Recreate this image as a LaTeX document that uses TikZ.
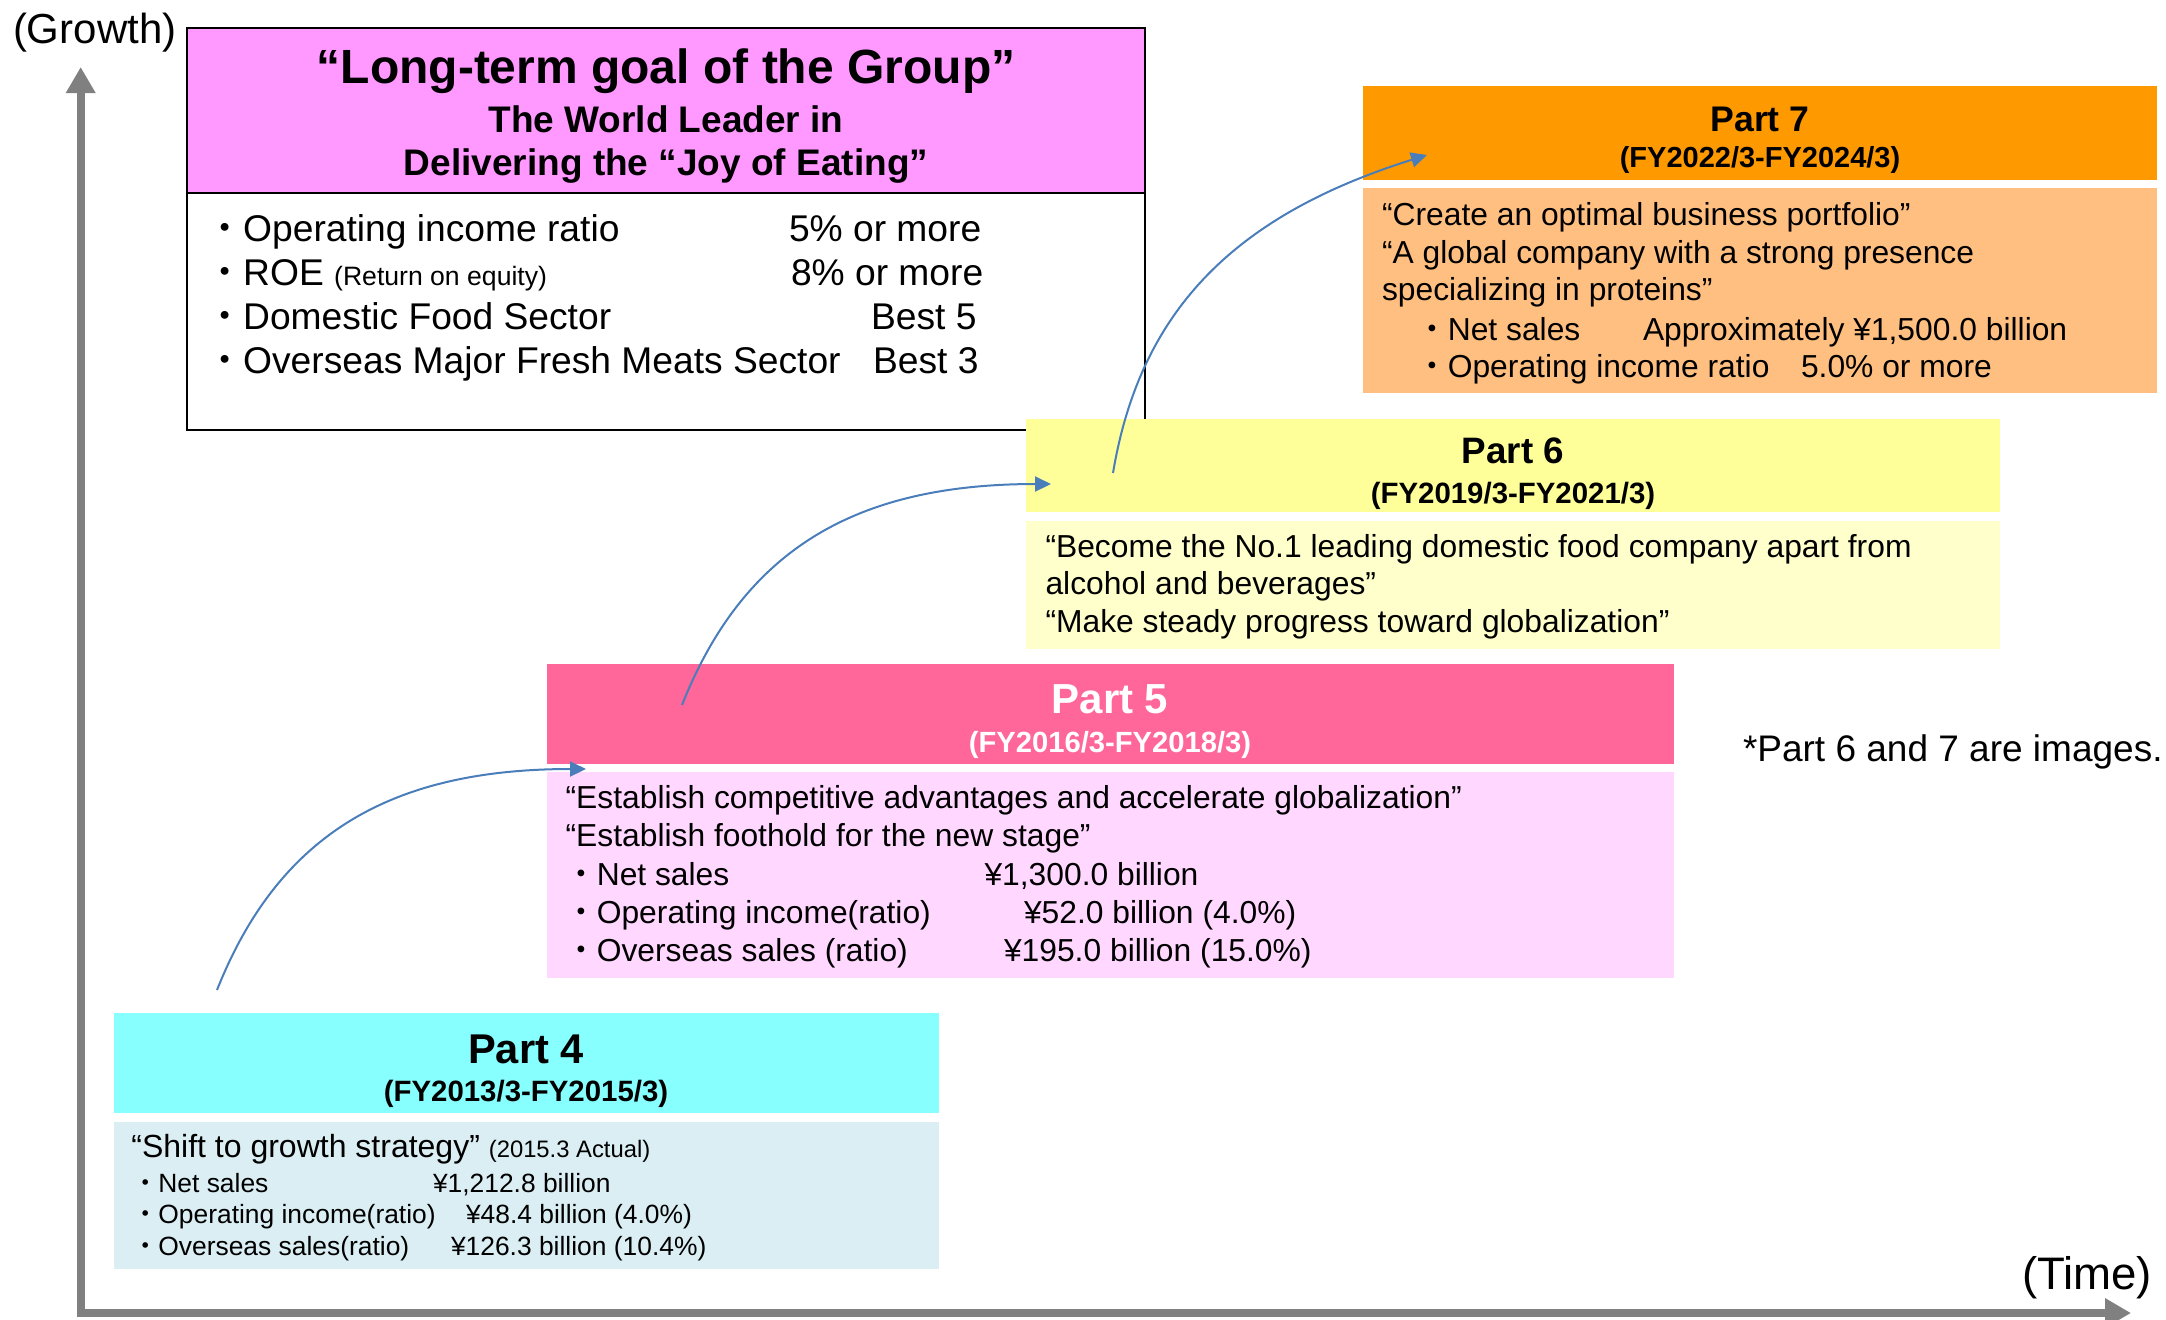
\documentclass[tikz,border=0pt]{standalone}
\usepackage{fontspec}
\setmainfont{Liberation Sans}
\newfontfamily\cjk{Noto Sans CJK JP}
\usetikzlibrary{fit,arrows.meta}
\definecolor{goalpink}{HTML}{FF99FF}
\definecolor{cSevH}{HTML}{FF9900}
\definecolor{cSevB}{HTML}{FFBF80}
\definecolor{cSixH}{HTML}{FFFF99}
\definecolor{cSixB}{HTML}{FFFFCC}
\definecolor{cFivH}{HTML}{FF6699}
\definecolor{cFivB}{HTML}{FFD7FF}
\definecolor{cFouH}{HTML}{88FFFF}
\definecolor{cFouB}{HTML}{DAEEF3}
\definecolor{arrowblue}{HTML}{4A7EBB}
\definecolor{axisgray}{HTML}{808080}
\newcommand\fsz[1]{\fontsize{#1}{#1}\selectfont}
\newcommand\bul{{\cjk ・}}
\tikzset{
  txt/.style={inner sep=0pt, outer sep=0pt, anchor=base west},
  ctr/.style={inner sep=0pt, outer sep=0pt, anchor=base},
  panel/.style={inner sep=0pt, outer sep=0pt, draw=none},
  conn/.style={draw=arrowblue, line width=1pt, -{Triangle[length=8pt,width=7.5pt]}},
  axisline/.style={draw=axisgray, line width=4pt, -{Triangle[length=13pt,width=14pt]}}
}
\begin{document}
\begin{tikzpicture}[x=0.5pt,y=-0.5pt]
\useasboundingbox (0,0) rectangle (2166,1319);

% axes
\coordinate (yb) at (80.7,1317);
\coordinate (yt) at (80.7,67);
\coordinate (xl) at (76.7,1313);
\coordinate (xr) at (2131,1313);
\draw[axisline] (yb) -- (yt);
\draw[axisline] (xl) -- (xr);
\node[txt, font=\fsz{21pt}] (growth) at (13,43) {(Growth)};
\node[txt, font=\fsz{22.8pt}] (time) at (2022,1289) {(Time)};

% panels
\node[panel, fill=goalpink, draw=black, line width=1.3pt, fit={(187,28) (1145,193)}] (goalh) {};
\node[panel, fill=white, draw=black, line width=1.3pt, fit={(187,193) (1145,430)}] (goalb) {};
\node[panel, fill=cSevH, fit={(1363,86) (2157,180)}] (p7h) {};
\node[panel, fill=cSevB, fit={(1363,188) (2157,393)}] (p7b) {};
\node[panel, fill=cSixH, fit={(1026,419) (2000,512)}] (p6h) {};
\node[panel, fill=cSixB, fit={(1026,521) (2000,649)}] (p6b) {};
\node[panel, fill=cFivH, fit={(547,664) (1674,764)}] (p5h) {};
\node[panel, fill=cFivB, fit={(547,772) (1674,978)}] (p5b) {};
\node[panel, fill=cFouH, fit={(113.5,1013) (939,1113)}] (p4h) {};
\node[panel, fill=cFouB, fit={(113.5,1122) (939,1269)}] (p4b) {};

% connectors
\coordinate (a1s) at (217,990);
\coordinate (a1e) at (586,769);
\coordinate (a2s) at (682,705);
\coordinate (a2e) at (1051,484);
\coordinate (a3s) at (1113,473);
\coordinate (a3e) at (1427,155);
\draw[conn] (a1s) .. controls (278.6,835) and (390,769) .. (a1e);
\draw[conn] (a2s) .. controls (743.6,550) and (855,484) .. (a2e);
\draw[conn] (a3s) .. controls (1140,311) and (1234,215.5) .. (a3e);

% goal texts
\node[ctr, font=\bfseries\fsz{24pt}] (g1) at (666,83) {“Long-term goal of the Group”};
\node[ctr, font=\bfseries\fsz{18.5pt}] (g2) at (666,132) {The World Leader in};
\node[ctr, font=\bfseries\fsz{18.5pt}] (g3) at (666,175) {Delivering the “Joy of Eating”};
\node[txt, font=\fsz{18.6pt}] (g4) at (206,241) {\bul Operating income ratio};
\node[txt, font=\fsz{18.6pt}] (g4v) at (789,241) {5\% or more};
\node[txt, font=\fsz{18.6pt}] (g5) at (206,285) {\bul ROE {\fsz{13.3pt}(Return on equity)}};
\node[txt, font=\fsz{18.6pt}] (g5v) at (791,285) {8\% or more};
\node[txt, font=\fsz{18.6pt}] (g6) at (206,329) {\bul Domestic Food Sector};
\node[txt, font=\fsz{18.6pt}] (g6v) at (871,329) {Best 5};
\node[txt, font=\fsz{18.6pt}] (g7) at (206,373) {\bul Overseas Major Fresh Meats Sector};
\node[txt, font=\fsz{18.6pt}] (g7v) at (873,373) {Best 3};

% part 7
\node[ctr, font=\bfseries\fsz{17.8pt}] (s1) at (1760,131) {Part 7};
\node[ctr, font=\bfseries\fsz{14.5pt}] (s2) at (1760,167) {(FY2022/3-FY2024/3)};
\node[txt, font=\fsz{15.9pt}] (s3) at (1382,225) {“Create an optimal business portfolio”};
\node[txt, font=\fsz{15.9pt}] (s4) at (1382,263) {“A global company with a strong presence};
\node[txt, font=\fsz{15.9pt}] (s5) at (1382,300) {specializing in proteins”};
\node[txt, font=\fsz{15.9pt}] (s6) at (1416,340) {\bul Net sales};
\node[txt, font=\fsz{15.9pt}] (s6v) at (1643,340) {Approximately ¥1,500.0 billion};
\node[txt, font=\fsz{15.9pt}] (s7) at (1416,377) {\bul Operating income ratio};
\node[txt, font=\fsz{15.9pt}] (s7v) at (1801,377) {5.0\% or more};

% part 6
\node[ctr, font=\bfseries\fsz{18.4pt}] (x1) at (1513,463) {Part 6};
\node[ctr, font=\bfseries\fsz{14.7pt}] (x2) at (1513,503) {(FY2019/3-FY2021/3)};
\node[txt, font=\fsz{15.9pt}] (x3) at (1045.5,557) {“Become the No.1 leading domestic food company apart from};
\node[txt, font=\fsz{15.9pt}] (x4) at (1045.5,594) {alcohol and beverages”};
\node[txt, font=\fsz{15.9pt}] (x5) at (1045.5,632) {“Make steady progress toward globalization”};

% part 5
\node[ctr, font=\bfseries\fsz{21pt}, text=white] (f1) at (1110,713) {Part 5};
\node[ctr, font=\bfseries\fsz{14.6pt}, text=white] (f2) at (1110,752) {(FY2016/3-FY2018/3)};
\node[txt, font=\fsz{15.9pt}] (f3) at (565.6,808) {“Establish competitive advantages and accelerate globalization”};
\node[txt, font=\fsz{15.9pt}] (f4) at (565.6,846) {“Establish foothold for the new stage”};
\node[txt, font=\fsz{15.9pt}] (f5) at (565,885) {\bul Net sales};
\node[txt, font=\fsz{15.9pt}] (f5v) at (984.5,885) {¥1,300.0 billion};
\node[txt, font=\fsz{15.9pt}] (f6) at (565,923) {\bul Operating income(ratio)};
\node[txt, font=\fsz{15.9pt}] (f6v) at (1024,923) {¥52.0 billion (4.0\%)};
\node[txt, font=\fsz{15.9pt}] (f7) at (565,961) {\bul Overseas sales (ratio)};
\node[txt, font=\fsz{15.9pt}] (f7v) at (1004,961) {¥195.0 billion (15.0\%)};

% part 4
\node[ctr, font=\bfseries\fsz{20.8pt}] (r1) at (526,1063) {Part 4};
\node[ctr, font=\bfseries\fsz{14.7pt}] (r2) at (526,1101) {(FY2013/3-FY2015/3)};
\node[txt, font=\fsz{16pt}] (r3) at (131.4,1157) {“Shift to growth strategy” {\fsz{11.9pt}(2015.3 Actual)}};
\node[txt, font=\fsz{13.2pt}] (r4) at (132,1192) {\bul Net sales};
\node[txt, font=\fsz{13.2pt}] (r4v) at (433,1192) {¥1,212.8 billion};
\node[txt, font=\fsz{13.2pt}] (r5) at (132,1223) {\bul Operating income(ratio)};
\node[txt, font=\fsz{13.2pt}] (r5v) at (466,1223) {¥48.4 billion (4.0\%)};
\node[txt, font=\fsz{13.2pt}] (r6) at (132,1255) {\bul Overseas sales(ratio)};
\node[txt, font=\fsz{13.2pt}] (r6v) at (451,1255) {¥126.3 billion (10.4\%)};

% note
\node[txt, font=\fsz{18.5pt}] (note) at (1743,761) {*Part 6 and 7 are images.};
\end{tikzpicture}
\end{document}
